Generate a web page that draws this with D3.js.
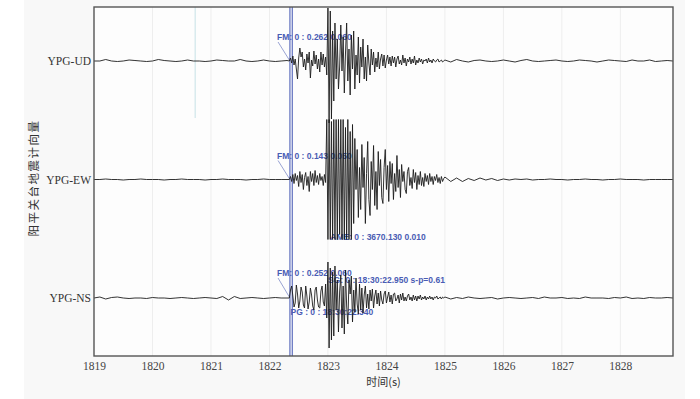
<!DOCTYPE html>
<html>
<head>
<meta charset="utf-8">
<script src="https://cdn.jsdelivr.net/npm/d3@7"></script>
<style>
  body { margin: 0; background: #fff; }
  svg { display: block; }
</style>
</head>
<body>
<div id="container"></div>
<script>
/** CONSTANTS AND GLOBALS */
const width = 700,
  height = 399,
  margin = { top: 7, bottom: 43, left: 94, right: 27 };

/** DATA */
const channels = ["UD", "EW", "NS"];
const xTicks = [1819, 1820, 1821, 1822, 1823, 1824, 1825, 1826, 1827, 1828];
const timeDomain = [1819, 1828.9];

// each trace is three segments: quiet before, event, quiet after
const segStart = { pre: 1819.0, event: 1822.34, post: 1825.0 };
const segStep = { pre: 0.1, event: 0.02, post: 0.1 };

const udPre = [0, 0, 1.5, 0, -0.5, 0, 1, 0.5, 0, -0.5, 0, 1.5, 0.5, 0, -0.5, 0, 1, 0, 0, -0.5,
  0, 1, 0.5, 0, 0, 1.5, 0, -0.5, 0, 1, 0, -0.5, 0, 0.5];
const udEvent = [0, 3, -2, 5, -4, 2, -8, -18, 3, 13,
  4, 9, -6, 2, -9, 7, -2, 9, -17, 1,
  -5, 10, -3, 6, -8, 2, -11, 9, -4, 7,
  -6, 4, -14, 53, -62, 50, -58, 30, -40, 38,
  -18, 22, -28, -6, 36, -10, 24, -32, 8, 38,
  -20, 12, -34, 26, -8, 30, -28, 6, -14, 24,
  -22, 14, -6, 22, -18, 4, -20, 16, -2, -14,
  12, -4, 9, -11, 3, -6, 9, -8, 2, 7,
  -5, 6, -7, 1, 6, -3, 4, -5, 5, -2,
  4, -6, 2, 5, -3, 1, -4, 6, -2, 3,
  -5, 2, -1, 4, -3, 2, -2, 5, -4, 1,
  -2, 3, -1, 2, -3, 1, 0, 2, -2, 3,
  -1, 1, -2, 2, 0, -1, 1, 2, -1, 0,
  1, -1, 0];
const udPost = [1, -1, 1.5, 0, -1, 0.5, 1, 0, -0.5, 0, 1, 0, -1, 0.5, 1.5, 0, -0.5, 0, 0.5, 1,
  0, -0.5, 0, 1, 0.5, 0, -1, 0, 1, 0.5, 0, -0.5, 1, 0, 0, 1, -0.5, 0, 0.5, 0];

const ewPre = [0, 0, 0.5, 0, 0, -0.5, 0, 0, 0.5, 0, 0, 0, -0.5, 0, 0, 0.5, 0, 0, 0, -0.5,
  0, 0, 0.5, 0, 0, 0, -0.5, 0, 0, 0.5, 0, 0, 0, 0];
const ewEvent = [0, 3, -2, 5, -4, 6, -1, 4, -7, 8,
  -3, 5, -10, 2, 7, -6, 3, -12, 8, -2,
  6, -6, 9, -3, 4, -5, 6, -1, 3, -6,
  5, -3, 60, -60, 60, -60, 58, -60, 60, -60,
  60, -60, 60, -55, 60, -60, 60, -60, 52, -60,
  60, -60, 48, -60, 55, -44, 41, -10, 30, -38,
  12, -30, 35, -8, 22, -44, 6, 38, -20, -36,
  18, -10, 34, -26, 8, -30, 28, -6, 20, -18,
  -24, 12, 30, -10, 14, -22, 18, -4, 16, -20,
  6, -12, 24, -8, 10, -18, 15, -2, 8, -10,
  -14, 8, 12, -6, 2, -9, 10, -3, 7, -10,
  4, -5, 8, -6, 2, -7, 6, -2, 4, -5,
  6, -2, 3, -5, 3, -1, 5, -3, 2, -4,
  3, -2, 1];
const ewPost = [2.5, -2, 1.5, -2, 1, -1, 1.5, -0.5, 1, -1, 0.5, -0.5, 0.5, 0, 0.5, -0.5, 0, 0, 0.5, 0,
  0, -0.5, 0, 0, 0.5, 0, 0, -0.5, 0, 0, 0.5, 0, 0, 0, -0.5, 0, 0, 0, 0, 0];

const nsPre = [0, 1, -1, 0.5, 1, 0, -0.5, 0, 0, -0.5, 0.5, 0, 0, -0.5, 0, 0.5, 0, -0.5, 0, 0.5,
  0, -0.5, 1.5, -2, 1.5, -0.5, 0, 0.5, 0, -0.5, 0, 0.5, 0, 0];
const nsEvent = [0, 8, 12, 2, -9, -5, 13, 4, -10, -3,
  11, 6, -7, -10, 12, 2, -11, -4, 10, 3,
  -8, -12, 8, 11, -2, -9, -10, 7, 12, -4,
  -8, 14, -20, 36, -50, 30, -42, 26, -38, 32,
  -12, 18, -34, 6, 23, -30, 12, -36, 28, -8,
  -26, 18, 4, 22, -24, 8, -14, 20, -6, -16,
  14, -12, 10, -15, 3, 12, -10, 4, -11, 8,
  -3, 9, -10, 2, 8, -6, 5, -8, 7, -2,
  -6, 4, 7, -5, 1, 6, -4, 3, -6, 4,
  5, -3, -1, 3, -5, 4, -2, 5, -3, 1,
  -3, 2, 4, -2, 1, -3, 3, -2, 2, -3,
  2, -1, 3, -2, 1, -1, 2, -2, 1, -1,
  2, -1, 1, -2, 1, 0, 2, -1, 0, 1,
  -1, 1, 0];
const nsPost = [1, -1, 0.5, -0.5, 1, 0, -0.5, 0, 0.5, -1, 0, 0.5, 0, -0.5, 0, 0.5, -0.5, 1, 0, 0,
  0.5, -0.5, 0, -0.5, 1, 0, 0, 0, -0.5, 0.5, 0, 1, -0.5, 0, -0.5, 0.5, 0, 0, 0.5, 0];

// phase picks (s) and the odd cyan marker
const picks = [1822.35, 1822.39];
const markerTime = 1820.73;

// pick annotations: channel, time, amplitude, text
const notes = [
  { ch: "UD", t: 1822.13, amp: 23, text: "FM: 0 : 0.262  0.060", leader: true },
  { ch: "EW", t: 1822.13, amp: 23, text: "FM: 0 : 0.143  0.050", leader: true },
  { ch: "EW", t: 1823.04, amp: -58, text: "AME: 0 : 3670.130  0.010", leader: false },
  { ch: "NS", t: 1822.13, amp: 24, text: "FM: 0 : 0.252  0.060", leader: true },
  { ch: "NS", t: 1823.0, amp: 17, text: "SG: 0 : 18:30:22.950  s-p=0.61", leader: false },
  { ch: "NS", t: 1822.36, amp: -15, text: "PG : 0 : 18:30:22.340", leader: false }
];

const traces = {
  UD: [udPre, udEvent, udPost],
  EW: [ewPre, ewEvent, ewPost],
  NS: [nsPre, nsEvent, nsPost]
};

/** SCALES */
const x = d3.scaleLinear()
  .domain(timeDomain)
  .range([margin.left, width - margin.right]);

const yChannel = d3.scalePoint()
  .domain(channels)
  .range([61, 298]);

const amp = d3.scaleLinear()
  .domain([-60, 60])
  .range([60, -60]);

function toPoints(segs) {
  const keys = ["pre", "event", "post"];
  const pts = [];
  segs.forEach((vals, k) => {
    vals.forEach((v, i) => {
      pts.push([segStart[keys[k]] + i * segStep[keys[k]], v]);
    });
  });
  return pts;
}

/** DRAW */
const svg = d3.select("#container")
  .append("svg")
  .attr("width", width)
  .attr("height", height);

svg.append("rect")
  .attr("x", 24).attr("y", 0)
  .attr("width", 661).attr("height", height)
  .attr("fill", "#f8f8f8");

svg.append("rect")
  .attr("x", margin.left).attr("y", margin.top)
  .attr("width", width - margin.left - margin.right)
  .attr("height", height - margin.top - margin.bottom)
  .attr("fill", "#fdfdfd");

// faint second grid
svg.append("g")
  .selectAll("line")
  .data(xTicks.slice(1))
  .join("line")
  .attr("x1", d => x(d)).attr("x2", d => x(d))
  .attr("y1", margin.top).attr("y2", height - margin.bottom)
  .attr("stroke", "#eeeeee")
  .attr("stroke-width", 1);

svg.append("line")
  .attr("x1", x(markerTime)).attr("x2", x(markerTime))
  .attr("y1", margin.top).attr("y2", 118)
  .attr("stroke", "#cfe6ea")
  .attr("stroke-width", 1.2);

// picks
svg.append("g")
  .selectAll("line")
  .data(picks)
  .join("line")
  .attr("x1", d => x(d)).attr("x2", d => x(d))
  .attr("y1", margin.top).attr("y2", height - margin.bottom)
  .attr("stroke", "#5062b8")
  .attr("stroke-width", 1.1);

// annotations (under the traces)
const noteG = svg.append("g")
  .attr("fill", "#4a5cb4")
  .style("font-family", "'Liberation Sans', Arial, sans-serif")
  .style("font-size", "8.5px")
  .style("font-weight", "bold");

noteG.selectAll("text")
  .data(notes)
  .join("text")
  .attr("x", d => x(d.t))
  .attr("y", d => yChannel(d.ch) + amp(d.amp))
  .attr("dominant-baseline", "middle")
  .text(d => d.text);

noteG.selectAll("line")
  .data(notes.filter(d => d.leader))
  .join("line")
  .attr("x1", d => x(d.t) + 1)
  .attr("y1", d => yChannel(d.ch) + amp(d.amp) + 4)
  .attr("x2", x(picks[0]))
  .attr("y2", d => yChannel(d.ch))
  .attr("stroke", "#7f8cc8")
  .attr("stroke-width", 0.8);

// traces
const line = d3.line()
  .x(d => x(d[0]))
  .y(d => d[1]);

svg.append("g")
  .selectAll("path")
  .data(channels)
  .join("path")
  .attr("d", ch => line(toPoints(traces[ch]).map(p => [p[0], yChannel(ch) + amp(p[1])])))
  .attr("fill", "none")
  .attr("stroke", "#1c1c1c")
  .attr("stroke-width", 0.9)
  .attr("stroke-linejoin", "round");

// frame
svg.append("rect")
  .attr("x", margin.left).attr("y", margin.top)
  .attr("width", width - margin.left - margin.right)
  .attr("height", height - margin.top - margin.bottom)
  .attr("fill", "none")
  .attr("stroke", "#555")
  .attr("stroke-width", 1.4);

// x axis
const xAxis = svg.append("g")
  .attr("transform", `translate(0, ${height - margin.bottom})`)
  .call(d3.axisBottom(x).tickValues(xTicks).tickFormat(d3.format("d")).tickSize(0).tickPadding(6));
xAxis.select(".domain").remove();
xAxis.selectAll("text")
  .attr("fill", "#444")
  .style("font-family", "'Liberation Serif', 'Times New Roman', serif")
  .style("font-size", "11.5px");

// station labels
const yAxis = svg.append("g")
  .attr("transform", `translate(${margin.left}, 0)`)
  .call(d3.axisLeft(yChannel).tickFormat(d => "YPG-" + d).tickSize(0).tickPadding(3));
yAxis.select(".domain").remove();
yAxis.selectAll("text")
  .attr("fill", "#333")
  .style("font-family", "'Liberation Serif', 'Times New Roman', serif")
  .style("font-size", "11.5px");

// titles
svg.append("text")
  .attr("x", (margin.left + width - margin.right) / 2)
  .attr("y", 383)
  .attr("text-anchor", "middle")
  .attr("dominant-baseline", "middle")
  .attr("fill", "#333")
  .style("font-family", "'Noto Sans CJK SC', sans-serif")
  .style("font-size", "11px")
  .text("时间(s)");

svg.append("text")
  .attr("transform", "translate(35, 178) rotate(-90)")
  .attr("text-anchor", "middle")
  .attr("dominant-baseline", "middle")
  .attr("fill", "#333")
  .style("font-family", "'Noto Sans CJK SC', sans-serif")
  .style("font-size", "11.5px")
  .style("letter-spacing", "1.5px")
  .text("阳平关台地震计向量");
</script>
</body>
</html>
